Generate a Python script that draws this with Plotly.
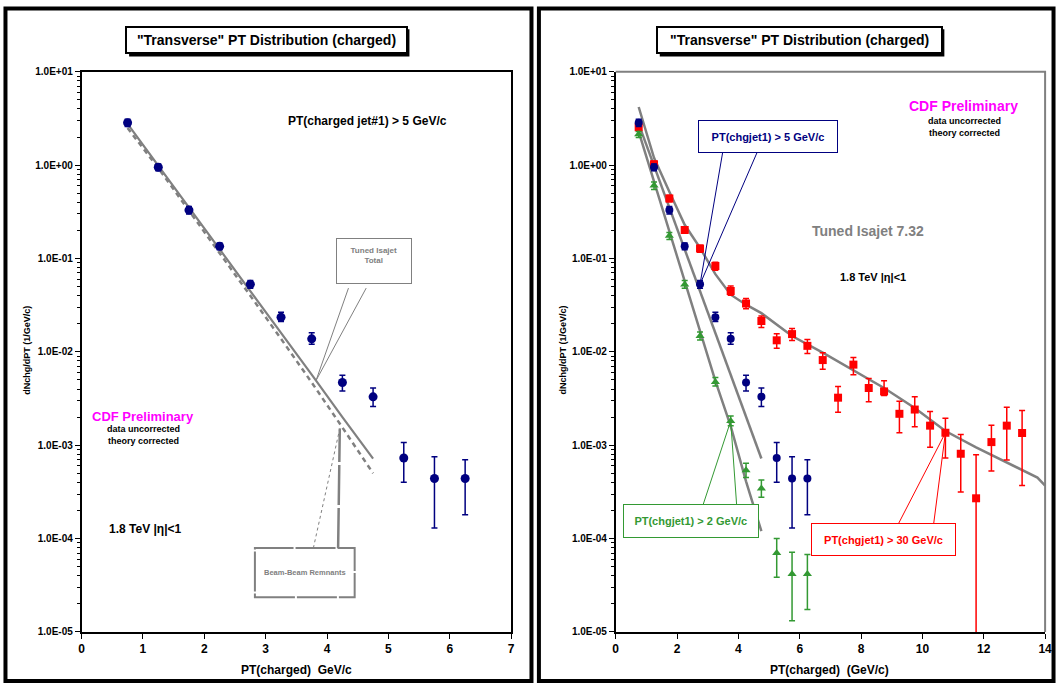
import numpy as np
import plotly.graph_objects as go

# ---------------- data ----------------
pt_bins = [0.75, 1.25, 1.75, 2.25, 2.75, 3.25, 3.75, 4.25, 4.75, 5.25, 5.75, 6.25]

# PT(chgjet1) > 5 GeV/c (blue circles)
j5_y = [2.85, 0.95, 0.33, 0.135, 0.053, 0.0235, 0.0138, 0.0047, 0.0033, 0.00073, 0.00044, 0.00044]
j5_hi = [3.1, 1.03, 0.36, 0.147, 0.058, 0.0265, 0.016, 0.0056, 0.0041, 0.00107, 0.00075, 0.0007]
j5_lo = [2.6, 0.87, 0.30, 0.124, 0.048, 0.0212, 0.0121, 0.0038, 0.0026, 0.00040, 0.00013, 0.00018]

# PT(chgjet1) > 2 GeV/c (green triangles)
j2_y = [2.14, 0.605, 0.175, 0.0528, 0.0148, 0.00475, 0.00182, 0.00054, 0.000344, 0.00007, 0.0000417, 0.0000417]
j2_hi = [2.3, 0.66, 0.19, 0.058, 0.0163, 0.0053, 0.00206, 0.00064, 0.000425, 0.0001, 0.0000713, 0.0000675]
j2_lo = [1.98, 0.55, 0.16, 0.048, 0.0134, 0.0043, 0.00162, 0.00045, 0.000277, 0.0000386, 0.0000132, 0.0000174]

# PT(chgjet1) > 30 GeV/c (red squares)
j30_x = [0.75, 1.25, 1.75, 2.25, 2.75, 3.25, 3.75, 4.25, 4.75, 5.25, 5.75, 6.25, 6.75,
         7.25, 7.75, 8.25, 8.75, 9.25, 9.75, 10.25, 10.75, 11.25, 11.75, 12.25, 12.75, 13.25]
j30_y = [2.55, 1.02, 0.44, 0.202, 0.128, 0.083, 0.045, 0.033, 0.0214, 0.0133, 0.0155, 0.0116, 0.00817,
         0.00323, 0.0073, 0.0041, 0.00377, 0.00217, 0.00241, 0.00162, 0.00136, 0.00081, 0.00027,
         0.00108, 0.00162, 0.00135]
j30_hi = [2.75, 1.1, 0.475, 0.218, 0.139, 0.091, 0.0507, 0.0373, 0.0242, 0.0156, 0.0178, 0.0136, 0.0098,
          0.00425, 0.0087, 0.00517, 0.0049, 0.00295, 0.0033, 0.0023, 0.00195, 0.0013, 0.00079,
          0.00164, 0.00255, 0.00236]
j30_lo = [2.35, 0.94, 0.405, 0.186, 0.117, 0.075, 0.0405, 0.0289, 0.0182, 0.0109, 0.0132, 0.0096, 0.0065,
          0.00226, 0.0057, 0.00293, 0.0034, 0.00136, 0.00158, 0.00095, 0.00073, 0.000316, 1e-7,
          0.00053, 0.000695, 0.00037]

# Tuned Isajet curves
isa_x = [0.75, 1.25, 1.75, 2.25, 2.75, 3.25, 3.75, 4.25, 4.75]
isa_total_j5 = [2.77, 0.99, 0.35, 0.126, 0.045, 0.016, 0.0057, 0.0020, 0.00072]
isa_bbr_j5 = [2.5, 0.93, 0.325, 0.115, 0.040, 0.0138, 0.0047, 0.00155, 0.0005]
isa_total_j2 = [2.29, 0.67, 0.195, 0.057, 0.0166, 0.0049, 0.0016, 0.00041, 0.00012]
isa30_x = [0.75, 1.25, 1.75, 2.25, 2.75, 3.25, 3.75, 4.25, 4.75, 5.75, 6.75, 7.75, 8.75,
           9.75, 10.75, 11.75, 12.75, 13.75, 14.0]
isa30_y = [4.2, 1.2, 0.52, 0.23, 0.13, 0.068, 0.041, 0.032, 0.026, 0.0148, 0.0098, 0.0064, 0.0041,
           0.0025, 0.00142, 0.00095, 0.00065, 0.00045, 0.00037]

y_tickvals = [1e-5, 1e-4, 1e-3, 1e-2, 1e-1, 1e0, 1e1]
y_ticktext = ["1.0E-05", "1.0E-04", "1.0E-03", "1.0E-02", "1.0E-01", "1.0E+00", "1.0E+01"]
y_minor = [k * 10.0 ** e for e in range(-5, 1) for k in range(2, 10)]
xl_ticks = [0, 1, 2, 3, 4, 5, 6, 7]
xr_ticks = [0, 2, 4, 6, 8, 10, 12, 14]

# ---------------- layout helpers ----------------
W, H = 1063, 689
def px(x):
    return x / W
def py(y):
    return 1 - y / H

FONT = "Liberation Sans, Arial, sans-serif"
NAVY = "#000080"
RED = "#ff0000"
GREEN = "#339933"
GRAY = "#808080"
MAGENTA = "#ff00ff"

L_X0, L_X1, R_X0, R_X1 = 79.3, 513.0, 618.5, 1052.0
Y_TOP, Y_BOT = 67.0, 637.0

def err(vals, hi, lo):
    return dict(type="data", symmetric=False,
                array=[h - v for h, v in zip(hi, vals)],
                arrayminus=[v - l for v, l in zip(vals, lo)])

fig = go.Figure()

# ---------- left panel ----------
fig.add_trace(go.Scatter(x=isa_x, y=isa_bbr_j5, mode="lines", xaxis="x", yaxis="y",
                         line=dict(color=GRAY, width=2.5, dash="5px,4px"), showlegend=False))
fig.add_trace(go.Scatter(x=isa_x, y=isa_total_j5, mode="lines", xaxis="x", yaxis="y",
                         line=dict(color=GRAY, width=2.2), showlegend=False))
fig.add_trace(go.Scatter(x=pt_bins, y=j5_y, mode="markers", xaxis="x", yaxis="y",
                         marker=dict(color=NAVY, size=9, symbol="circle"),
                         error_y=dict(err(j5_y, j5_hi, j5_lo), color=NAVY, thickness=1.5, width=3),
                         showlegend=False))

# ---------- right panel ----------
for cx, cy in [(isa_x, isa_total_j2), (isa_x, isa_total_j5), (isa30_x, isa30_y)]:
    fig.add_trace(go.Scatter(x=cx, y=cy, mode="lines", xaxis="x2", yaxis="y2",
                             line=dict(color=GRAY, width=2.5), showlegend=False))
fig.add_trace(go.Scatter(x=j30_x, y=j30_y, mode="markers", xaxis="x2", yaxis="y2",
                         marker=dict(color=RED, size=8, symbol="square"),
                         error_y=dict(err(j30_y, j30_hi, j30_lo), color=RED, thickness=1.5, width=3),
                         showlegend=False))
fig.add_trace(go.Scatter(x=pt_bins, y=j2_y, mode="markers", xaxis="x2", yaxis="y2",
                         marker=dict(color=GREEN, size=8, symbol="triangle-up"),
                         error_y=dict(err(j2_y, j2_hi, j2_lo), color=GREEN, thickness=1.5, width=3),
                         showlegend=False))
fig.add_trace(go.Scatter(x=pt_bins, y=j5_y, mode="markers", xaxis="x2", yaxis="y2",
                         marker=dict(color=NAVY, size=8, symbol="circle"),
                         error_y=dict(err(j5_y, j5_hi, j5_lo), color=NAVY, thickness=1.5, width=3),
                         showlegend=False))

xcommon = dict(showgrid=False, zeroline=False, showline=True, linecolor="black", linewidth=1.5,
               ticks="outside", ticklen=5, tickcolor="black", tickwidth=1,
               tickfont=dict(family=FONT, size=12, color="black", weight="bold"), tickmode="array")
ycommon = dict(type="log", range=[-5, 1], showgrid=False, zeroline=False, showline=True,
               linecolor="black", linewidth=1.5, ticks="outside", ticklen=5, tickcolor="black",
               tickmode="array", tickvals=y_tickvals, ticktext=y_ticktext,
               tickfont=dict(family=FONT, size=10, color="black", weight="bold"),
               minor=dict(tickmode="array", tickvals=y_minor, ticks="outside", ticklen=3,
                          tickcolor="black", showgrid=False))

fig.update_layout(
    width=W, height=H, autosize=False,
    margin=dict(l=0, r=0, t=0, b=0, pad=0),
    paper_bgcolor="white", plot_bgcolor="white",
    font=dict(family=FONT, color="black"),
    xaxis=dict(xcommon, domain=[px(L_X0), px(L_X1)], range=[0, 7], tickvals=xl_ticks,
               anchor="y", mirror=True),
    yaxis=dict(ycommon, domain=[py(Y_BOT), py(Y_TOP)], anchor="x", mirror=True),
    xaxis2=dict(xcommon, domain=[px(R_X0), px(R_X1)], range=[0, 14], tickvals=xr_ticks,
                anchor="y2"),
    yaxis2=dict(ycommon, domain=[py(Y_BOT), py(Y_TOP)], anchor="x2"),
)

shapes = []
# outer panel frames
shapes.append(dict(type="rect", xref="paper", yref="paper", x0=px(2.5), x1=px(533.5),
                   y0=py(687), y1=py(2.5), line=dict(color="black", width=4)))
shapes.append(dict(type="rect", xref="paper", yref="paper", x0=px(541), x1=px(1060.5),
                   y0=py(687), y1=py(2.5), line=dict(color="black", width=4)))
# right plot-area gray frame (top & right)
shapes.append(dict(type="path", xref="paper", yref="paper",
                   path=f"M {px(R_X0)} {py(Y_TOP)} L {px(R_X1)} {py(Y_TOP)} L {px(R_X1)} {py(Y_BOT)}",
                   line=dict(color=GRAY, width=2)))
# title boxes with shadows
for (x0, x1) in [(124.3, 407.3), (660.0, 947.3)]:
    shapes.append(dict(type="rect", xref="paper", yref="paper", x0=px(x0 + 3), x1=px(x1 + 3),
                       y0=py(48.3 + 3), y1=py(20.7 + 3), fillcolor="black", line=dict(width=0)))
# Beam-Beam Remnants callout (dashed box + pointers)
shapes.append(dict(type="rect", xref="paper", yref="paper", x0=px(254.3), x1=px(355),
                   y0=py(601.7), y1=py(551.7), fillcolor="white",
                   line=dict(color=GRAY, width=2, dash="40px,2px")))
shapes.append(dict(type="line", xref="paper", yref="paper", x0=px(313.3), y0=py(551.7),
                   x1=px(340), y1=py(430), line=dict(color=GRAY, width=1, dash="dot")))
shapes.append(dict(type="line", xref="paper", yref="paper", x0=px(338.3), y0=py(551.7),
                   x1=px(340), y1=py(430), line=dict(color=GRAY, width=2.5, dash="40px,3px")))
fig.update_layout(shapes=shapes)

ann = []
def text(x, y, s, size, color="black", angle=0, xanchor="center"):
    ann.append(dict(x=px(x), y=py(y), xref="paper", yref="paper", text=s, showarrow=False,
                    font=dict(family=FONT, size=size, color=color), textangle=angle,
                    xanchor=xanchor, yanchor="middle"))

def box(x0, y0, x1, y1, s, size, color, border, bw=1):
    ann.append(dict(x=px((x0 + x1) / 2), y=py((y0 + y1) / 2), xref="paper", yref="paper",
                    text=s, showarrow=False, font=dict(family=FONT, size=size, color=color),
                    width=x1 - x0 - 2 * bw, height=y1 - y0 - 2 * bw, bordercolor=border,
                    borderwidth=bw, borderpad=0, bgcolor="white", xanchor="center",
                    yanchor="middle", align="center", valign="middle"))

def pointer(xref, yref, xv, yv, ax, ay, color, width=1):
    ann.append(dict(x=xv, y=np.log10(yv), xref=xref, yref=yref, ax=ax, ay=ay,
                    axref="pixel", ayref="pixel", text="", showarrow=True, arrowhead=0,
                    arrowwidth=width, arrowcolor=color, standoff=0, startstandoff=0))

title = '<b>"Transverse" PT Distribution (charged)</b>'
box(124.3, 20.7, 407.3, 48.3, title, 14, "black", "black", 2)
box(660.0, 20.7, 947.3, 48.3, title, 14, "black", "black", 2)

# left panel texts
text(368, 117, "<b>PT(charged jet#1) > 5 GeV/c</b>", 12)
text(141, 418, "<b>CDF Preliminary</b>", 13, MAGENTA)
text(141.5, 431, "<b>data uncorrected</b>", 9)
text(141.5, 443, "<b>theory corrected</b>", 9)
text(144, 532, "<b>1.8 TeV |η|<1</b>", 12)
text(296, 676, "<b>PT(charged)\u00a0\u00a0GeV/c</b>", 12)
text(24, 350, "<b>dNchg/dPT (1/GeV/c)</b>", 9, angle=-90)
# Tuned Isajet Total callout
tip_x = 3.82
tip_y = 10 ** np.interp(tip_x, isa_x, np.log10(isa_total_j5))
pointer("x", "y", tip_x, tip_y, 33, -94, GRAY)
pointer("x", "y", tip_x, tip_y, 51, -94, GRAY)
box(336.7, 236.7, 412.3, 282.3, "<b>Tuned Isajet<br>Total</b><br> ", 8, GRAY, GRAY, 1)
text(304.6, 577, "<b>Beam-Beam Remnants</b>", 7.5, GRAY)

# right panel texts
text(970, 102, "<b>CDF Preliminary</b>", 14, MAGENTA)
text(971, 117, "<b>data uncorrected</b>", 9)
text(971, 129, "<b>theory corrected</b>", 9)
text(873, 229, "<b>Tuned Isajet 7.32</b>", 14, GRAY)
text(878, 276, "<b>1.8 TeV |η|<1</b>", 11)
text(834, 676, "<b>PT(charged)\u00a0\u00a0(GeV/c)</b>", 12)
text(565, 350, "<b>dNchg/dPT (1/GeV/c)</b>", 9, angle=-90)

# callouts on right panel (tips on data points)
pointer("x2", "y2", pt_bins[4], j5_y[4], 23, -134, NAVY)
pointer("x2", "y2", pt_bins[4], j5_y[4], 58, -134, NAVY)
box(702.7, 116, 842.7, 149.3, "<b>PT(chgjet1) > 5 GeV/c</b>", 11, NAVY, NAVY, 1)

pointer("x2", "y2", pt_bins[6], j2_y[6], -28, 85, GREEN)
pointer("x2", "y2", pt_bins[6], j2_y[6], 6, 85, GREEN)
box(626.7, 507, 762.3, 540.7, "<b>PT(chgjet1) > 2 GeV/c</b>", 11, GREEN, GREEN, 1)

pointer("x2", "y2", j30_x[20], j30_y[20], -48, 93, RED)
pointer("x2", "y2", j30_x[20], j30_y[20], -12, 93, RED)
box(816, 526, 961, 559.3, "<b>PT(chgjet1) > 30 GeV/c</b>", 11, RED, RED, 1)

fig.update_layout(annotations=ann)

page_fix = (
    "var h=document.documentElement,b=document.body;"
    "h.style.margin='0';h.style.padding='0';h.style.overflow='hidden';"
    "b.style.margin='0';b.style.padding='0';b.style.overflow='hidden';"
    "var gd=document.getElementById('{plot_id}');"
    "if(gd&&gd.parentElement){gd.parentElement.style.margin='0';gd.parentElement.style.lineHeight='0';}"
)
fig.write_html("out.html", config={"displayModeBar": False}, post_script=page_fix)
